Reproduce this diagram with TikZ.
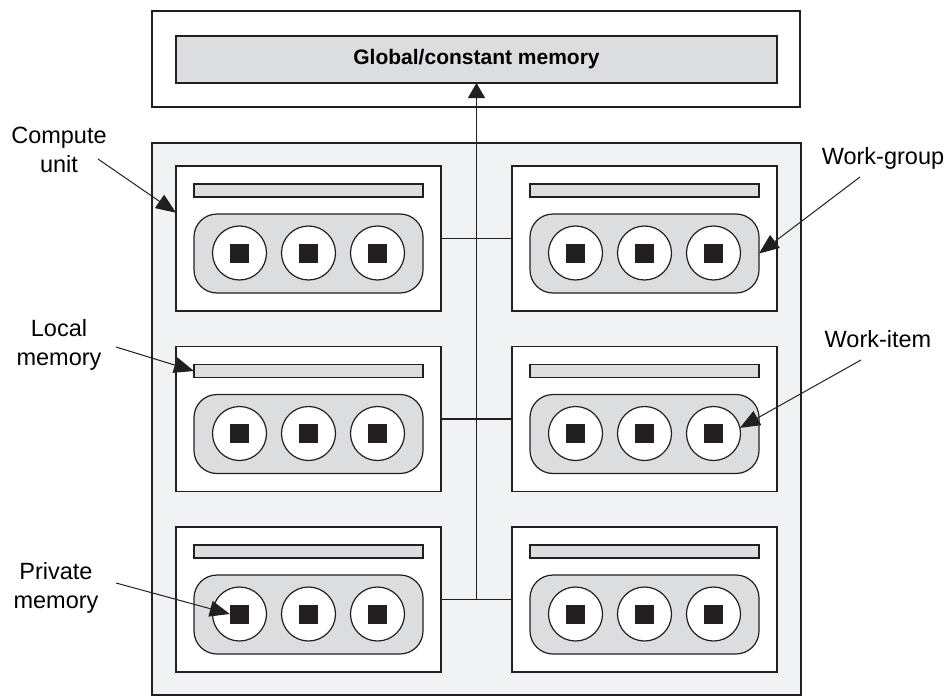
\documentclass[tikz,border=0pt]{standalone}
\usepackage{fontspec}
\setmainfont{Liberation Sans}
\usetikzlibrary{arrows.meta,calc}

\definecolor{panel}{HTML}{F1F2F3}
\definecolor{memgray}{HTML}{DCDDDE}
\definecolor{ink}{HTML}{231F20}

\tikzset{
  frame/.style={draw=ink,line width=1.2pt,inner sep=0pt,outer sep=0pt},
  cubox/.style={frame,fill=white,minimum width=265pt,minimum height=145pt},
  lmbar/.style={frame,fill=memgray,minimum width=229pt,minimum height=13pt},
  wgbox/.style={frame,fill=memgray,rounded corners=23pt,minimum width=229pt,minimum height=79pt},
  wicirc/.style={frame,fill=white,circle,minimum size=54pt},
  pmsq/.style={fill=ink,inner sep=0pt,minimum size=19pt},
  lbl/.style={align=center,inner sep=0pt,font=\fontsize{23.5}{28.5}\selectfont},
  ptr/.style={draw=ink,line width=1pt,-{Triangle[length=20pt,width=16pt]}}
}

\begin{document}
\begin{tikzpicture}[x=1pt,y=-1pt]
  \useasboundingbox (0,0) rectangle (951,696);

  % global memory on top
  \node[frame,fill=white,minimum width=648pt,minimum height=96pt] (gmembox) at (476,59) {};
  \node[frame,fill=memgray,minimum width=601pt,minimum height=47pt,
        font=\bfseries\fontsize{21}{25}\selectfont] (gmem) at (476.5,59.5) {Global/constant memory};

  % device with its compute units
  \node[frame,fill=panel,minimum width=649pt,minimum height=552pt] (device) at (476.5,419) {};

  \foreach \r/\y in {1/238.5,2/419,3/599.5}{
    \foreach \c/\x in {1/308.5,2/644.5}{
      \node[cubox] (cu-\r-\c) at (\x,\y) {};
      \node[lmbar] (lm-\r-\c) at (\x,\y-48) {};
      \node[wgbox] (wg-\r-\c) at (\x,\y+15) {};
      \foreach \k/\d in {1/-69,2/0,3/69}{
        \node[wicirc] (wi-\r-\c-\k) at (\x+\d,\y+14.5) {};
        \node[pmsq] (pm-\r-\c-\k) at (wi-\r-\c-\k) {};
      }
    }
  }

  % interconnect
  \foreach \r in {1,2,3}
    \draw[ink,line width=1.2pt] (cu-\r-1.east) -- (cu-\r-2.west);
  \coordinate (busfoot) at ($(cu-3-1.east)!0.5!(cu-3-2.west)$);
  \draw[ink,line width=1.2pt,-{Triangle[length=15pt,width=17pt]}] (busfoot) -- (busfoot |- gmem.south);

  % labels
  \node[lbl] (cuText) at (59,150) {Compute\\unit};
  \node[lbl] (lmText) at (59,345) {Local\\memory};
  \node[lbl] (pmText) at (56,588) {Private\\memory};
  \node[lbl] (wgText) at (883,158.5) {Work-group};
  \node[lbl] (wiText) at (878,339.5) {Work-item};

  \coordinate (cuFrom) at (98,159);
  \coordinate (lmFrom) at (116,347);
  \coordinate (pmFrom) at (116,583);
  \coordinate (wgFrom) at (860,177);
  \coordinate (wiFrom) at (861,360);

  \draw[ptr] (cuFrom) -- (cu-1-1.169);
  \draw[ptr] (lmFrom) -- (lm-2-1.west);
  \draw[ptr] (pmFrom) -- (pm-3-1-1.west);
  \draw[ptr] (wgFrom) -- (wg-1-2.east);
  \draw[ptr] (wiFrom) -- (wi-2-2-3.12);

\end{tikzpicture}
\end{document}
